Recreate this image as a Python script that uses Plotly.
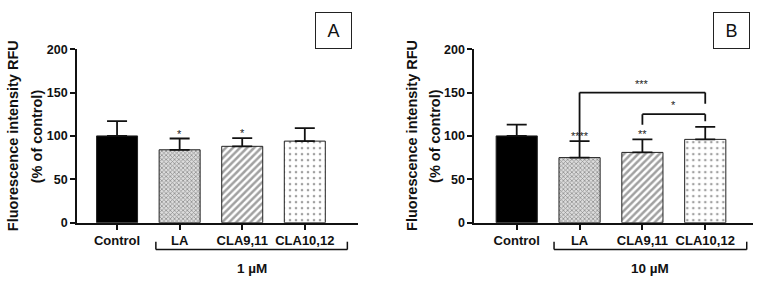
import plotly.graph_objects as go

# ---------------- data ----------------
categories = ["Control", "LA", "CLA9,11", "CLA10,12"]

# Panel A (1 µM)
means_a = [100, 84, 88, 94]
upper_a = [117, 97, 97.5, 109]          # top of error bar
stars_a = ["", "*", "*", ""]

# Panel B (10 µM)
means_b = [100, 75, 81, 96]
upper_b = [113, 94, 96, 110.5]
stars_b = ["", "****", "**", ""]

# pairwise comparisons in panel B: (from, to, bracket level, left leg end, right leg end, label)
comparisons_b = [
    ("LA", "CLA10,12", 150, 94, 137, "***"),
    ("CLA9,11", "CLA10,12", 125, 113, 117, "*"),
]

y_ticks = [0, 50, 100, 150, 200]
y_title_1 = "Fluorescence intensity RFU"
y_title_2 = "(% of control)"
dose_labels = ["1 µM", "10 µM"]
panel_labels = ["A", "B"]

# ---------------- styling ----------------
FONT = "Liberation Sans, Arial, sans-serif"
fill_colors = ["#000000", "#dcdcdc", "#ffffff", "#ffffff"]
pat_shapes = ["", "x", "/", "."]
pat_fg = ["#000000", "#8c8c8c", "#111111", "#707070"]
pat_size = [6, 3, 5, 6]
pat_solid = [0.3, 0.45, 0.5, 0.15]

W, H = 758, 288
y_dom = [1 - 226.7 / H, 1 - 44.3 / H]
x_doms = [[77 / W, 358 / W], [474.3 / W, 753 / W]]
x_ranges = [[-0.64, 3.85], [-0.675, 3.76]]

fig = go.Figure()
panels = [(means_a, upper_a, stars_a), (means_b, upper_b, stars_b)]
ann = []
shapes = []

for p, (means, upper, stars) in enumerate(panels):
    xa = "x" if p == 0 else "x2"
    ya = "y" if p == 0 else "y2"
    err = [u - m for u, m in zip(upper, means)]
    fig.add_trace(go.Bar(
        x=categories, y=means, xaxis=xa, yaxis=ya, width=0.655,
        marker=dict(color=fill_colors,
                    line=dict(color="#222222", width=1),
                    pattern=dict(shape=pat_shapes, fgcolor=pat_fg, bgcolor=fill_colors,
                                 size=pat_size, solidity=pat_solid)),
        error_y=dict(type="data", symmetric=False, array=err, arrayminus=[0] * 4,
                     color="#111111", thickness=1.8, width=10),
        showlegend=False, hoverinfo="skip",
    ))
    for c, u, s in zip(categories, upper, stars):
        if s:
            ann.append(dict(x=c, y=u, xref=xa, yref=ya, text=s, showarrow=False,
                            yanchor="bottom", yshift=-3,
                            font=dict(family=FONT, size=11, color="#222222")))
    bx0, bx1 = (0.62, 3.68) if p == 0 else (0.594, 3.66)
    for (xs, ys) in [((bx0, bx1), (0.1146, 0.1146)), ((bx0, bx0), (0.1146, 0.1434)),
                     ((bx1, bx1), (0.1146, 0.1434))]:
        shapes.append(dict(type="line", xref=xa, yref="paper", x0=xs[0], x1=xs[1],
                           y0=ys[0], y1=ys[1], line=dict(color="#111111", width=1.5)))
    ann.append(dict(x=(bx0 + bx1) / 2, y=1 - 275 / H, xref=xa, yref="paper",
                    text="<b>%s</b>" % dose_labels[p], showarrow=False,
                    xanchor="center", yanchor="middle",
                    font=dict(family=FONT, size=13.5, color="#111111")))
    cx1, cx2 = (13.3, 37.3) if p == 0 else (412, 435)
    for cx, t in [(cx1, y_title_1), (cx2, y_title_2)]:
        ann.append(dict(x=cx / W, y=1 - 135.5 / H, xref="paper", yref="paper",
                        text="<b>%s</b>" % t, textangle=-90, showarrow=False,
                        xanchor="center", yanchor="middle",
                        font=dict(family=FONT, size=14.5, color="#111111")))
    bx_c = 333 if p == 0 else 731.7
    ann.append(dict(x=bx_c / W, y=1 - 24.7 / H, xref="paper", yref="paper",
                    text=panel_labels[p], showarrow=False, xanchor="center", yanchor="middle",
                    width=31, height=31, bordercolor="#222222", borderwidth=1,
                    bgcolor="white", borderpad=2,
                    font=dict(family=FONT, size=18, color="#111111")))

for a, b, lvl, la, lb, lab in comparisons_b:
    for (xs, ys) in [((a, b), (lvl, lvl)), ((a, a), (la, lvl)), ((b, b), (lb, lvl))]:
        shapes.append(dict(type="line", xref="x2", yref="y2", x0=categories.index(xs[0]),
                           x1=categories.index(xs[1]), y0=ys[0], y1=ys[1],
                           line=dict(color="#111111", width=1.8)))
    ann.append(dict(x=(categories.index(a) + categories.index(b)) / 2, y=lvl, xref="x2", yref="y2",
                    text=lab, showarrow=False, yanchor="bottom", yshift=1,
                    font=dict(family=FONT, size=11, color="#222222")))

axis_common = dict(showgrid=False, zeroline=False, showline=True, linecolor="#111111",
                   linewidth=1.8, ticks="outside", tickcolor="#111111", ticklen=5, tickwidth=1.5,
                   tickfont=dict(family=FONT, size=13, color="#111111"))

layout = dict(
    width=W, height=H, autosize=False,
    margin=dict(l=0, r=0, t=0, b=0),
    paper_bgcolor="white", plot_bgcolor="white",
    annotations=ann, shapes=shapes, bargap=0.3,
)
for p in range(2):
    sx = "" if p == 0 else "2"
    layout["xaxis" + sx] = dict(axis_common, domain=x_doms[p], range=x_ranges[p],
                                anchor="y" + sx, type="category",
                                tickvals=categories, ticktext=["<b>%s</b>" % c for c in categories])
    layout["yaxis" + sx] = dict(axis_common, domain=y_dom, range=[0, 200], anchor="x" + sx,
                                tickvals=y_ticks, ticktext=["<b>%d</b>" % v for v in y_ticks],
                                tickfont=dict(family=FONT, size=12.5, color="#111111"))

fig.update_layout(**layout)
pin = ("document.body.style.margin='0';document.body.style.overflow='hidden';"
       "var d=document.getElementById('{plot_id}');d.style.position='fixed';"
       "d.style.top='0px';d.style.left='0px';")
fig.write_html("out.html", post_script=pin, config={"displayModeBar": False})
